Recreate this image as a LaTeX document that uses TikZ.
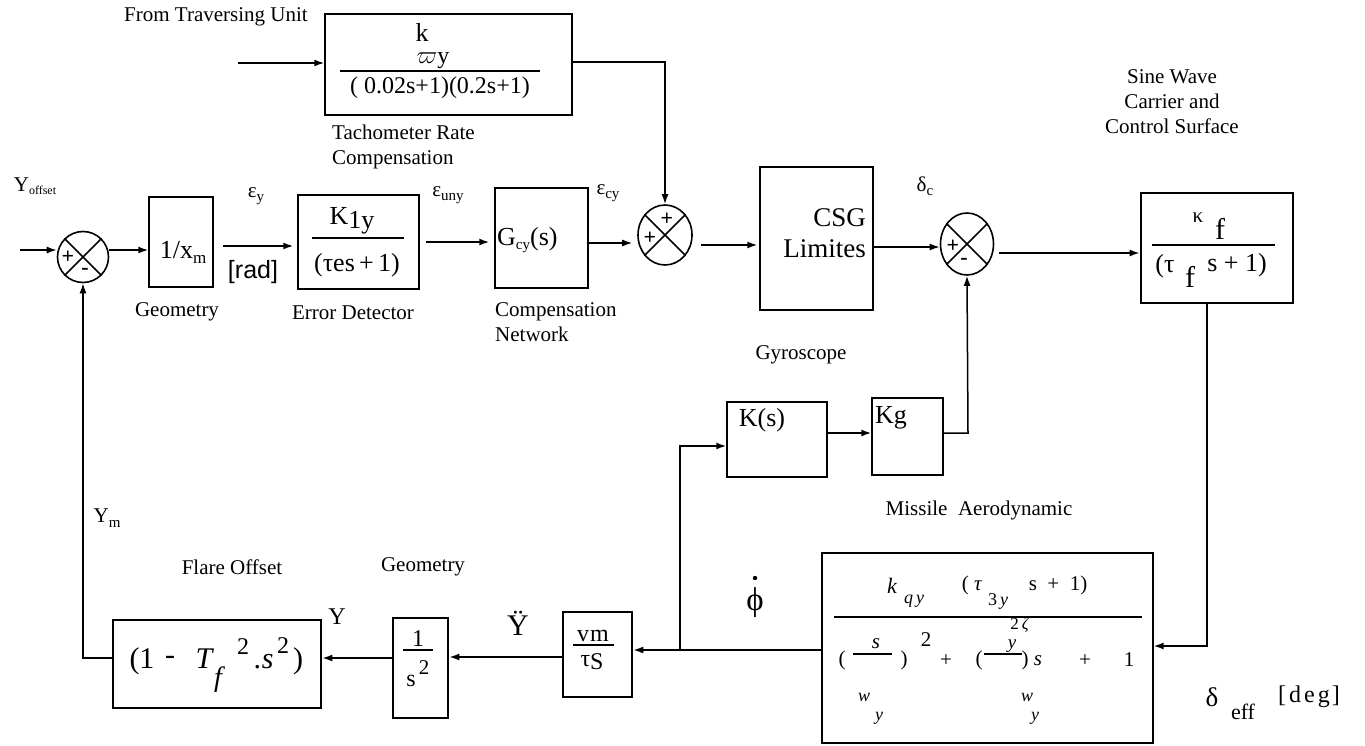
\documentclass[tikz,border=0pt]{standalone}
\usepackage{fontspec}
\setmainfont{Liberation Serif}
\newfontfamily\sansf{Liberation Sans}
\usetikzlibrary{shapes.geometric,arrows.meta}
\tikzset{
  box/.style={draw, line width=1.5pt, inner sep=0pt},
  tbox/.style={draw, line width=2.8pt, inner sep=0pt},
  sumj/.style={draw, ellipse, line width=1.6pt, inner sep=0pt},
  arr/.style={-{Latex[length=10pt,width=7pt]}, line width=1.5pt},
  ln/.style={line width=1.5pt},
  fl/.style={line width=1.3pt},
  lbl/.style={font=\fontsize{21}{25}\selectfont, inner sep=0pt},
  bt/.style={font=\fontsize{26}{31}\selectfont, inner sep=0pt},
  mt/.style={font=\fontsize{24}{28}\selectfont, inner sep=0pt},
  st/.style={font=\fontsize{21}{24}\selectfont, inner sep=0pt},
  sm/.style={font=\fontsize{17}{20}\selectfont, inner sep=0pt},
  pm/.style={font=\fontsize{22}{22}\selectfont\bfseries, inner sep=0pt},
}
\begin{document}
\begin{tikzpicture}[x=1pt,y=-1pt]
\useasboundingbox (0,0) rectangle (1365,746);

% ---------------- blocks ----------------
\node[box, minimum width=247pt, minimum height=101pt] (tacho) at (448.5,64.5) {};
\node[box, minimum width=64pt, minimum height=90pt] (geo) at (181,242) {};
\node[box, minimum width=121pt, minimum height=94pt] (ed) at (358.5,242) {};
\node[box, minimum width=93pt, minimum height=100pt] (gcy) at (541.5,238) {};
\node[box, minimum width=113pt, minimum height=143pt] (csg) at (816.5,238.5) {};
\node[tbox, minimum width=152pt, minimum height=110pt] (kf) at (1217,248) {};
\node[box, minimum width=100pt, minimum height=75pt] (ks) at (777,439.5) {};
\node[box, minimum width=71pt, minimum height=77pt] (kg) at (907.5,436.5) {};
\node[box, line width=1.3pt, minimum width=331pt, minimum height=190pt] (aero) at (987.5,648) {};
\node[tbox, minimum width=69pt, minimum height=85pt] (vm) at (597.5,654.5) {};
\node[tbox, minimum width=55pt, minimum height=100pt] (dint) at (420.5,668) {};
\node[tbox, minimum width=208pt, minimum height=88pt] (flare) at (217,664) {};

% summing junctions
\node[sumj, minimum width=51pt, minimum height=51pt] (sa) at (83,257) {};
\node[sumj, minimum width=54pt, minimum height=60pt] (sb) at (665,235) {};
\node[sumj, minimum width=53pt, minimum height=62pt] (sc) at (967,244) {};
\foreach \s in {sa,sb,sc}
  \draw[ln] (\s.45) -- (\s.225) (\s.135) -- (\s.315);
\node[pm] (sap) at (68,257) {+};
\node[pm] (sam) at (85,271) {-};
\node[pm] (sbp1) at (667,219) {+};
\node[pm] (sbp2) at (650,238) {+};
\node[pm] (scp) at (953,246) {+};
\node[pm] (scm) at (964,261) {-};

% ---------------- connectors ----------------
\coordinate (tin) at (238,63);
\coordinate (tk) at (665,62);
\coordinate (in1) at (20,250);
\coordinate (bp) at (680,650);
\coordinate (kgc) at (968,433);
\coordinate (kfc) at (1207,646);
\coordinate (fc) at (83,658);

\draw[arr] (tin) -- (tin -| tacho.west);
\draw[arr] (tacho.east |- tk) -- (tk) -- (sb.north);
\draw[arr] (in1) -- (in1 -| sa.west);
\draw[arr] (sa.east |- 0,250) -- (geo.west |- 0,250);
\draw[arr, shorten <=9pt, shorten >=4pt] (geo.east |- 0,246) -- (ed.west |- 0,246);
\draw[arr, shorten <=6pt, shorten >=5pt] (ed.east |- 0,242) -- (gcy.west |- 0,242);
\draw[arr, shorten >=5pt] (gcy.east |- 0,243) -- (sb.west |- 0,243);
\draw[arr, shorten <=8pt, shorten >=2pt] (sb.east |- 0,245) -- (csg.west |- 0,245);
\draw[arr] (csg.east |- 0,247) -- (sc.west |- 0,247);
\draw[arr, shorten <=5pt] (sc.east |- 0,253) -- (kf.west |- 0,253);
\draw[arr] (kf.south -| kfc) -- (kfc) -- (kfc -| aero.east);
\draw[arr] (aero.west |- bp) -- (bp -| vm.east);
\draw[arr] (bp) |- (ks.west |- 0,446);
\draw[arr] (ks.east |- kgc) -- (kg.west |- kgc);
\draw[arr] (kg.east |- kgc) -- (kgc) -- (sc.south);
\draw[arr] (vm.west |- 0,657) -- (dint.east |- 0,657);
\draw[arr] (dint.west |- fc) -- (fc -| flare.east);
\draw[arr] (flare.west |- fc) -- (fc) -- (sa.south);

% ---------------- block contents ----------------
% tachometer
\node[bt] (tk1) at (422,32) {k};
\node[mt] (tk2) at (433,61) {$\varpi$y};
\draw[fl] (340,71) -- (540,71);
\node[mt] (tk3) at (440,88) {( 0.02s+1)(0.2s+1)};
% geometry 1/x_m
\node[bt] (g1t) at (183,252) {1/x\raisebox{-5pt}{\fontsize{17}{17}\selectfont m}};
% error detector
\node[bt] (ed1) at (352,221) {K\raisebox{-4pt}{1y}};
\draw[fl] (312,238) -- (404,238);
\node[bt] (ed2) at (357,265) {(τes\,+\,1)};
% compensation
\node[bt, anchor=west] (gc) at (497,240) {G\raisebox{-4pt}{\fontsize{15}{15}\selectfont cy}(s)};
% CSG
\node[font=\fontsize{27}{31}\selectfont, inner sep=0pt, align=right, anchor=east] (csgt) at (866,233) {CSG\\Limites};
% Kf
\node[st] (kf1) at (1198,218) {κ};
\node[font=\fontsize{30}{30}\selectfont, inner sep=0pt] (kf2) at (1220,229) {f};
\draw[fl] (1152,245) -- (1275,245);
\node[bt] (kf3) at (1165,266) {(τ};
\node[font=\fontsize{30}{30}\selectfont, inner sep=0pt] (kf4) at (1190,277) {f};
\node[bt] (kf5) at (1237,265) {s + 1)};
% K(s), Kg
\node[bt] (kst) at (762,420) {K(s)};
\node[bt] (kgt) at (891,418) {Kg};
% vm / tau s
\node[mt] (vm1) at (593,636) {v\kern1pt m};
\draw[fl] (573,645) -- (614,645);
\node[mt] (vm2) at (592,662) {τ\raisebox{-3pt}{S}};
% 1/s^2
\node[mt] (di1) at (418,639) {1};
\draw[fl] (403,650) -- (433,650);
\node[mt] (di2) at (411,681) {s};
\node[st] (di3) at (424,668) {2};
% flare offset
\node[font=\fontsize{30}{30}\selectfont, inner sep=0pt] (fo1) at (142,661) {(1};
\node[font=\fontsize{30}{30}\selectfont, inner sep=0pt] (fo2) at (170,660) {-};
\node[font=\fontsize{30}{30}\selectfont\itshape, inner sep=0pt] (fo3) at (204,659) {T};
\node[font=\fontsize{28}{28}\selectfont\itshape, inner sep=0pt] (fo4) at (218,680) {f};
\node[mt] (fo5) at (243,647) {2};
\node[font=\fontsize{30}{30}\selectfont\itshape, inner sep=0pt] (fo6) at (264,662) {.s};
\node[mt] (fo7) at (283,646) {2};
\node[font=\fontsize{30}{30}\selectfont, inner sep=0pt] (fo8) at (298,661) {)};
% missile aerodynamic
\node[st, font=\fontsize{22}{22}\selectfont\itshape] (ae1) at (892,586) {k};
\node[sm, font=\fontsize{18}{18}\selectfont\itshape] (ae2) at (914,601) {q\,y};
\node[st] (ae3) at (972,585) {( \textit{τ}};
\node[sm, font=\fontsize{18}{18}\selectfont] (ae4) at (998,601) {3\,\textit{y}};
\node[st] (ae5) at (1058,585) {s \ + \ 1)};
\draw[fl] (834,617) -- (1142,617);
\node[sm, font=\fontsize{17}{17}\selectfont] (ae6) at (1020,625) {2\,\textit{ζ}};
\node[st] (ae7) at (842,660) {(};
\draw[fl] (853,654) -- (892,654);
\node[st, font=\fontsize{21}{21}\selectfont\itshape] (ae8) at (876,644) {s};
\node[st] (ae9) at (904,660) {)};
\node[st] (ae10) at (926,640) {2};
\node[st] (ae11) at (946,661) {+};
\node[st] (ae12) at (979,660) {(};
\draw[fl] (984,654) -- (1022,654);
\node[st, font=\fontsize{19}{19}\selectfont\itshape] (ae13) at (1012,646) {y};
\node[st] (ae14) at (1025,660) {)};
\node[st, font=\fontsize{21}{21}\selectfont\itshape] (ae15) at (1038,661) {s};
\node[st] (ae16) at (1085,661) {+};
\node[st] (ae17) at (1129,660) {1};
\node[sm, font=\fontsize{18}{18}\selectfont\itshape] (ae18) at (864,697) {w};
\node[sm, font=\fontsize{18}{18}\selectfont\itshape] (ae19) at (879,718) {y};
\node[sm, font=\fontsize{18}{18}\selectfont\itshape] (ae20) at (1027,697) {w};
\node[sm, font=\fontsize{18}{18}\selectfont\itshape] (ae21) at (1035,718) {y};

% ---------------- signal labels ----------------
\node[lbl] (yoff) at (35,186) {Y\raisebox{-3pt}{\fontsize{12}{12}\selectfont offset}};
\node[st] (ey) at (256,196) {ε\raisebox{-4pt}{\fontsize{15}{15}\selectfont y}};
\node[font=\fontsize{25}{25}\sansf\selectfont, inner sep=0pt] (rad) at (253,272) {[rad]};
\node[st] (euny) at (448,195) {ε\raisebox{-4pt}{\fontsize{15}{15}\selectfont uny}};
\node[st] (ecy) at (608,193) {ε\raisebox{-4pt}{\fontsize{15}{15}\selectfont cy}};
\node[st] (dc) at (925,186) {δ\raisebox{-4pt}{\fontsize{15}{15}\selectfont c}};
\node[lbl] (ym) at (107,518) {Y\raisebox{-5pt}{\fontsize{15}{15}\selectfont m}};
\node[mt] (yy) at (337,617) {Y};
\node[font=\fontsize{30}{30}\selectfont, inner sep=0pt] (ydd) at (518,623) {Ÿ};
\node[font=\fontsize{33}{33}\selectfont, inner sep=0pt] (phi) at (755,603) {ϕ};
\fill (755,578) circle (2.2pt);
\node[font=\fontsize{27}{27}\selectfont, inner sep=0pt] (deff) at (1212,697) {δ};
\node[font=\fontsize{22}{22}\selectfont, inner sep=0pt] (eff) at (1243,712) {eff};
\node[font=\fontsize{24}{24}\selectfont, inner sep=0pt] (deg) at (1309,697) {[\hspace{3pt}d\hspace{3pt}e\hspace{3pt}g\hspace{2pt}]};

% ---------------- block captions ----------------
\node[lbl] (from) at (216,17) {From Traversing Unit};
\node[lbl, align=left, anchor=west] (tach) at (332,147) {Tachometer Rate\\Compensation};
\node[lbl] (geot) at (177,312) {Geometry};
\node[lbl] (edt) at (353,313) {Error Detector};
\node[lbl, align=left, anchor=west] (cnt) at (495,322) {Compensation\\Network};
\node[lbl, align=center] (sine) at (1172,102) {Sine Wave\\Carrier and\\Control Surface};
\node[lbl] (gyro) at (801,355) {Gyroscope};
\node[lbl] (mis) at (979,510) {Missile \ Aerodynamic};
\node[lbl] (flt) at (232,567) {Flare Offset};
\node[lbl] (geob) at (423,567) {Geometry};
\end{tikzpicture}
\end{document}
